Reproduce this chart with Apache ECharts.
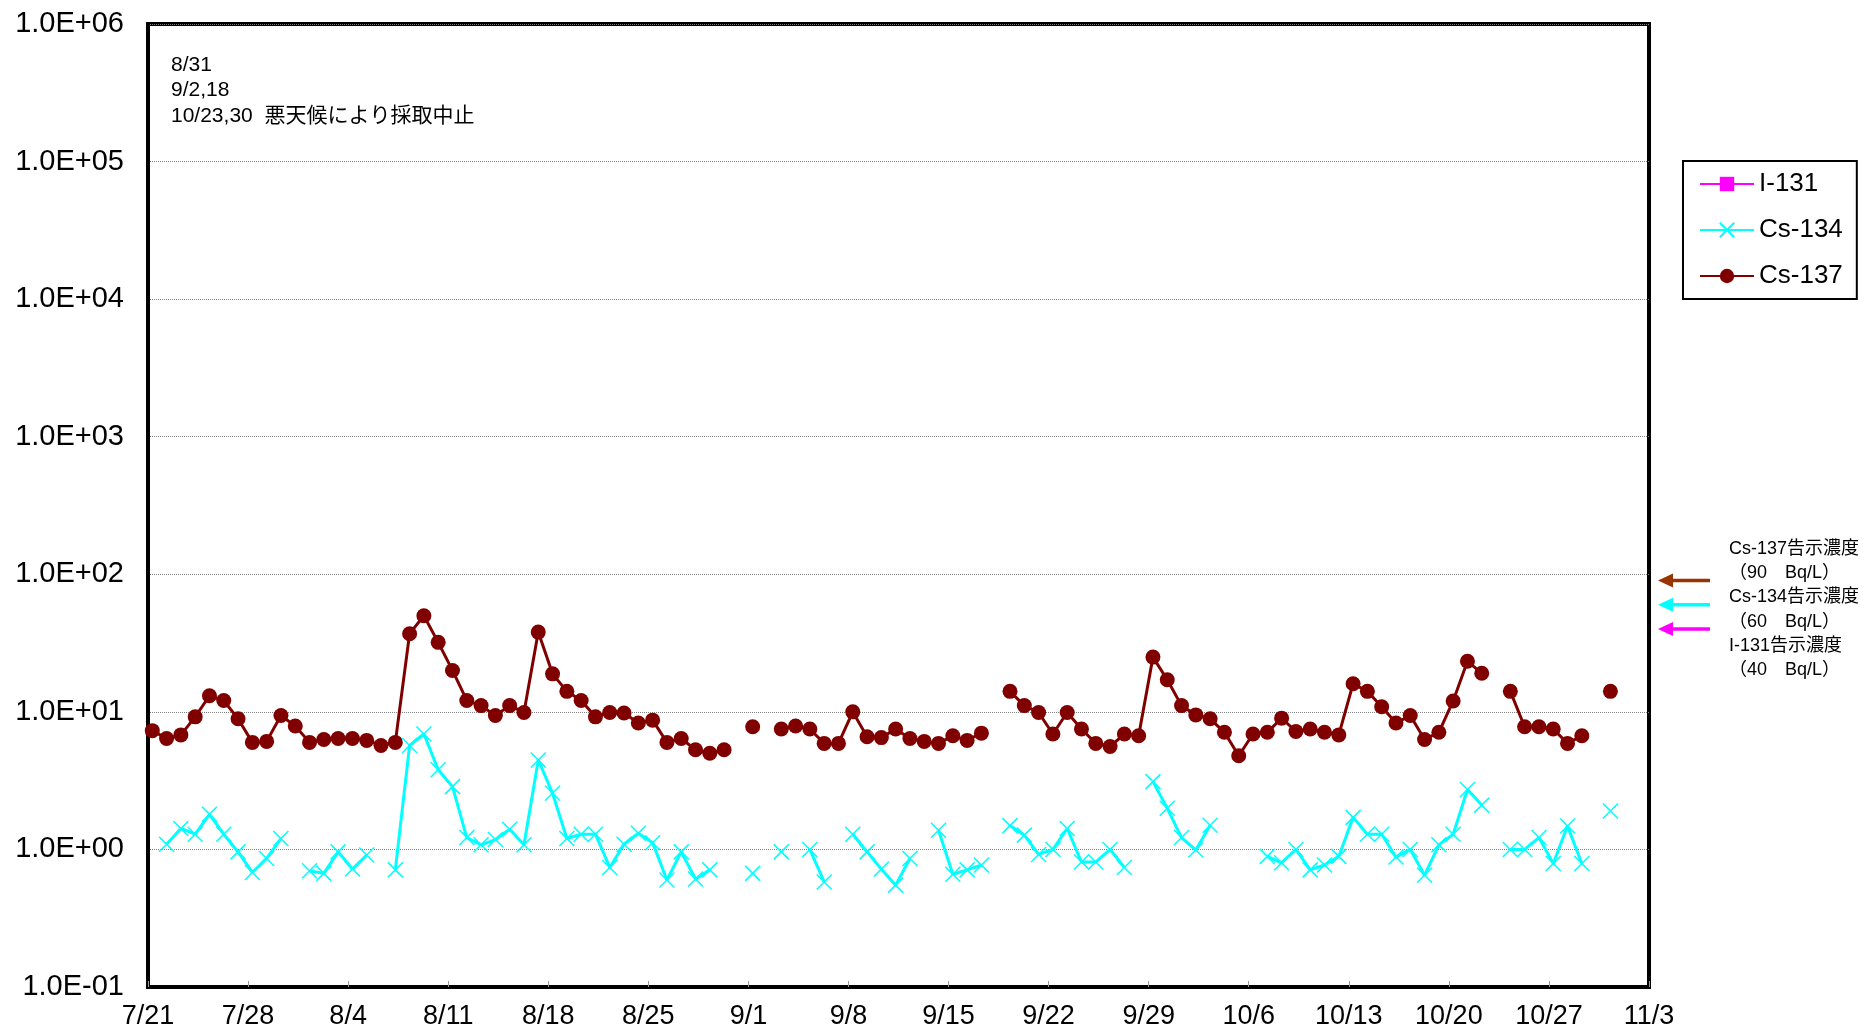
<!DOCTYPE html>
<html style="height: 100%">
<head>
    <meta charset="utf-8">
    <title>Cs-134 / Cs-137</title>
</head>
<body style="height: 100%; margin: 0; background: #fff">
<div id="container" style="width: 1865px; height: 1033px"></div>
<script type="text/javascript" src="https://cdn.jsdelivr.net/npm/echarts@6/dist/echarts.min.js"></script>
<script type="text/javascript">
// day 0 = 7/21, one value per day, null = no sample / below detection
var startMonth = 7, startDay = 21;
var lastDay = 105; // 11/3
var sampleTime = 0.3; // samples are taken in the morning (fraction of a day)

var cs137 = [
    7.3, 6.4, 6.8, 9.2, 13.1, 12.1, 8.9, 6.0, 6.1, 9.4,
    7.9, 6.0, 6.3, 6.4, 6.4, 6.2, 5.7, 6.0, 37, 50,
    32, 20, 12.1, 11.1, 9.4, 11.1, 9.9, 38, 18.9, 14.1,
    12.1, 9.2, 9.9, 9.8, 8.3, 8.7, 6.0, 6.4, 5.3, 5.0,
    5.3, null, 7.8, null, 7.5, 7.9, 7.5, 5.9, 5.9, 10.0,
    6.6, 6.5, 7.5, 6.4, 6.1, 5.9, 6.7, 6.2, 7.0, null,
    14.1, 11.1, 9.9, 6.9, 9.9, 7.5, 5.9, 5.6, 6.9, 6.7,
    25, 17.1, 11.1, 9.5, 8.9, 7.1, 4.8, 6.9, 7.1, 9.0,
    7.2, 7.5, 7.1, 6.8, 16.0, 14.1, 10.9, 8.3, 9.4, 6.3,
    7.1, 12.0, 23.3, 19.1, null, 14.1, 7.8, 7.8, 7.5, 5.9,
    6.7, null, 14.1
];

var cs134 = [
    null, 1.09, 1.42, 1.29, 1.80, 1.29, 0.96, 0.68, 0.86, 1.20,
    null, 0.70, 0.67, 0.96, 0.72, 0.91, null, 0.71, 5.7, 6.9,
    3.8, 2.86, 1.22, 1.08, 1.18, 1.40, 1.08, 4.47, 2.56, 1.20,
    1.29, 1.29, 0.74, 1.09, 1.31, 1.12, 0.60, 0.96, 0.61, 0.71,
    null, null, 0.67, null, 0.96, null, 1.0, 0.58, null, 1.29,
    0.96, 0.72, 0.55, 0.86, null, 1.38, 0.66, 0.71, 0.77, null,
    1.49, 1.27, 0.92, 1.0, 1.42, 0.81, 0.81, 1.0, 0.74, null,
    3.11, 1.99, 1.22, 0.99, 1.50, null, null, null, 0.89, 0.80,
    1.0, 0.71, 0.77, 0.89, 1.71, 1.29, 1.29, 0.88, 1.0, 0.65,
    1.08, 1.29, 2.73, 2.10, null, 1.0, 1.0, 1.22, 0.79, 1.48,
    0.79, null, 1.90
];

var i131 = []; // not detected

// 告示濃度 (Bq/L)
var limitNames = ['Cs-137', 'Cs-134', 'I-131'];
var limitValues = [90, 60, 40];
var limitColors = ['#993300', '#00FFFF', '#FF00FF'];

var note = '8/31\n9/2,18\n10/23,30  悪天候により採取中止';

var FONT = "'Liberation Sans', 'Noto Sans CJK JP', sans-serif";

function toPairs(arr) {
    return arr.map(function (v, i) { return [i + sampleTime, v]; });
}

function dayLabel(d) {
    var dt = new Date(Date.UTC(2011, startMonth - 1, startDay + d));
    return (dt.getUTCMonth() + 1) + '/' + dt.getUTCDate();
}

function expLabel(v) {
    var e = Math.round(Math.log10(v));
    var m = v / Math.pow(10, e);
    var s = e < 0 ? '-' : '+';
    var a = Math.abs(e);
    return m.toFixed(1) + 'E' + s + (a < 10 ? '0' : '') + a;
}

var dom = document.getElementById('container');
var myChart = echarts.init(dom);

var gridLeft = 148, gridRight = 216, gridTop = 24, gridBottom = 46;

var option = {
    animation: false,
    backgroundColor: '#fff',
    textStyle: { fontFamily: FONT },
    grid: {
        left: gridLeft, right: gridRight, top: gridTop, bottom: gridBottom,
        show: true, borderColor: '#000', borderWidth: 4, backgroundColor: '#fff'
    },
    legend: {
        orient: 'vertical',
        left: 1683, top: 161,
        padding: [10, 14, 10, 16],
        itemWidth: 54, itemHeight: 18, itemGap: 20,
        borderColor: '#000', borderWidth: 2, backgroundColor: '#fff',
        textStyle: { fontSize: 26, color: '#000', fontFamily: FONT },
        data: ['I-131', 'Cs-134', 'Cs-137']
    },
    xAxis: {
        type: 'value',
        min: 0, max: lastDay, interval: 7,
        axisLine: { show: true, lineStyle: { color: '#000', width: 4 } },
        axisTick: { show: true, inside: true, length: 6, lineStyle: { color: '#999', width: 1 } },
        axisLabel: {
            fontSize: 27, color: '#000', margin: 16, fontFamily: FONT,
            formatter: function (v) { return dayLabel(v); }
        },
        splitLine: { show: false }
    },
    yAxis: {
        type: 'log',
        logBase: 10,
        min: 0.1, max: 1e6,
        axisLine: { show: true, lineStyle: { color: '#000', width: 4 } },
        axisTick: { show: false },
        axisLabel: {
            fontSize: 29, color: '#000', margin: 24, fontFamily: FONT,
            formatter: function (v) { return expLabel(v); }
        },
        splitLine: { show: true, lineStyle: { color: '#808080', type: 'dotted', width: 1 } },
        minorSplitLine: { show: false }
    },
    series: [
        {
            name: 'I-131', type: 'line', data: toPairs(i131),
            symbol: 'rect', symbolSize: 12,
            itemStyle: { color: '#FF00FF' },
            lineStyle: { color: '#FF00FF', width: 3 }
        },
        {
            name: 'Cs-134', type: 'line', data: toPairs(cs134),
            connectNulls: false,
            symbol: 'path://M0,0L10,10M10,0L0,10', symbolSize: 15,
            itemStyle: { color: 'none', borderColor: '#00FFFF', borderWidth: 1.5 },
            lineStyle: { color: '#00FFFF', width: 3 },
            z: 3
        },
        {
            name: 'Cs-137', type: 'line', data: toPairs(cs137),
            connectNulls: false,
            symbol: 'circle', symbolSize: 15,
            itemStyle: { color: '#800000' },
            lineStyle: { color: '#800000', width: 3 },
            z: 4
        }
    ]
};

myChart.setOption(option);

// annotations: note text, 告示濃度 arrows pointing at limit values on the axis
var graphics = [];
graphics.push({
    type: 'text', left: gridLeft + 23, top: 52, z: 10,
    style: { text: note, fontSize: 21, lineHeight: 25.6, fill: '#000', fontFamily: FONT }
});

var tipX = myChart.getWidth() - gridRight + 9;
limitValues.forEach(function (v, i) {
    var y = myChart.convertToPixel({ yAxisIndex: 0 }, v);
    graphics.push({
        type: 'line', z: 10,
        shape: { x1: tipX + 12, y1: y, x2: tipX + 52, y2: y },
        style: { stroke: limitColors[i], lineWidth: 3.5 }
    });
    graphics.push({
        type: 'polygon', z: 10,
        shape: { points: [[tipX, y], [tipX + 15, y - 7], [tipX + 15, y + 7]] },
        style: { fill: limitColors[i] }
    });
});

var limitText = limitNames.map(function (n, i) {
    return n + '告示濃度\n（' + limitValues[i] + '　Bq/L）';
}).join('\n');
graphics.push({
    type: 'text', left: 1729, top: 537, z: 10,
    style: { text: limitText, fontSize: 18, lineHeight: 24.2, fill: '#000', fontFamily: FONT }
});

myChart.setOption({ graphic: graphics });
</script>
</body>
</html>
